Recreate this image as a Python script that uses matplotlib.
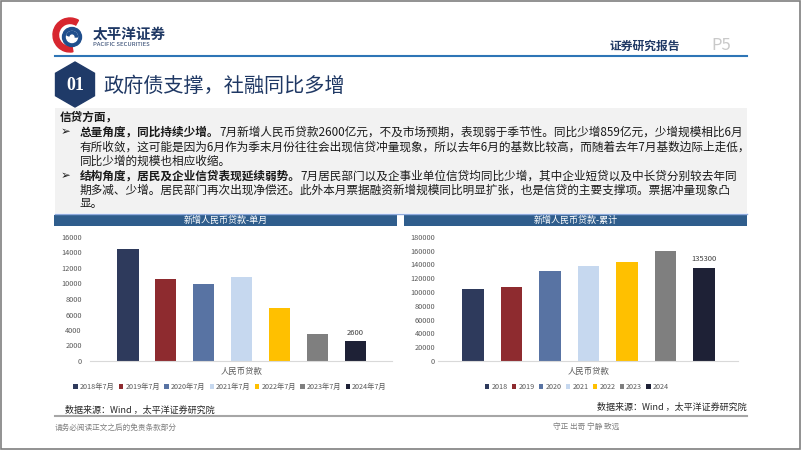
import matplotlib
matplotlib.use('Agg')
import matplotlib.pyplot as plt
from matplotlib import patches

plt.rcParams['font.family'] = ['Noto Sans CJK SC', 'DejaVu Sans']

# data
category = '人民币贷款'
month_labels = ['2018年7月', '2019年7月', '2020年7月', '2021年7月', '2022年7月', '2023年7月', '2024年7月']
monthly_loans = [14500, 10600, 9927, 10800, 6790, 3459, 2600]
year_labels = ['2018', '2019', '2020', '2021', '2022', '2023', '2024']
cumulative_loans = [104600, 106800, 130300, 137600, 143000, 160000, 135300]

colors = ['#2E3A5C', '#8E2B2F', '#5873A3', '#C6D8EF', '#FFC000', '#7F7F7F', '#1E2136']
NAVY = '#1F3864'
W, H = 802, 451

fig = plt.figure(figsize=(W / 100, H / 100), dpi=100)
bg = fig.add_axes([0, 0, 1, 1])
bg.set_xlim(0, W)
bg.set_ylim(H, 0)
bg.axis('off')

# frame
bg.add_patch(patches.Rectangle((0.8, 0.8), 799, 448.5, fill=False, ec='#7F7F7F', lw=1.2))

# logo
bg.add_patch(patches.Wedge((70, 35), 17, 80, 300, width=5.5, color='#D7262F'))
bg.add_patch(patches.Circle((72, 37), 9.5, color='#1F4E8C'))
bg.add_patch(patches.Circle((72, 37), 5.5, color='white'))
bg.add_patch(patches.Wedge((72, 37), 5.5, 200, 360, width=2.2, color='#1F4E8C'))
bg.text(93, 34, '太平洋证券', fontsize=10.5, fontweight='bold', color=NAVY, va='center')
bg.text(93, 44, 'PACIFIC SECURITIES', fontsize=4.3, color=NAVY, va='center')

# header
bg.plot([55, 747], [56, 56], color='#2E75B6', lw=1.5)
bg.text(610, 46, '证券研究报告', fontsize=8.5, fontweight='bold', color=NAVY, va='center')
bg.text(711, 46, 'P5', fontsize=12, color='#C9C9C9', va='center')

# section title
bg.add_patch(patches.RegularPolygon((75, 84.5), 6, radius=22.5, orientation=0, color='#1F3A68'))
bg.text(75, 86, '01', fontsize=13, fontweight='bold', color='white', ha='center', va='center',
        family=['Liberation Serif', 'DejaVu Serif'])
bg.text(103, 86, '政府债支撑，社融同比多增', fontsize=14.5, color=NAVY, va='center')

# text box
bg.add_patch(patches.Rectangle((55, 108), 692, 105, color='#F2F2F2', lw=0))
bg.plot([55, 747], [213.5, 213.5], color='#8FAADC', lw=1.0)

renderer = fig.canvas.get_renderer()
fs = 8.4
txt_color = '#1A1A1A'


def rich_line(x, y, bold_part, normal_part):
    t = bg.text(x, y, bold_part, fontsize=fs, fontweight='bold', color=txt_color, va='center')
    bb = t.get_window_extent(renderer=renderer)
    x_end = bg.transData.inverted().transform((bb.x1, bb.y0))[0]
    bg.text(x_end, y, normal_part, fontsize=fs, color=txt_color, va='center')


bg.text(60, 117, '信贷方面，', fontsize=fs, fontweight='bold', color=txt_color, va='center')
bg.text(61, 132, '➢', fontsize=fs, color=txt_color, va='center')
rich_line(80, 132, '总量角度，同比持续少增。',
          '7月新增人民币贷款2600亿元，不及市场预期，表现弱于季节性。同比少增859亿元，少增规模相比6月')
bg.text(80, 147, '有所收敛，这可能是因为6月作为季末月份往往会出现信贷冲量现象，所以去年6月的基数比较高，而随着去年7月基数边际上走低，',
        fontsize=fs, color=txt_color, va='center')
bg.text(80, 161, '同比少增的规模也相应收缩。', fontsize=fs, color=txt_color, va='center')
bg.text(61, 176, '➢', fontsize=fs, color=txt_color, va='center')
rich_line(80, 176, '结构角度，居民及企业信贷表现延续弱势。',
          '7月居民部门以及企事业单位信贷均同比少增，其中企业短贷以及中长贷分别较去年同')
bg.text(80, 190, '期多减、少增。居民部门再次出现净偿还。此外本月票据融资新增规模同比明显扩张，也是信贷的主要支撑项。票据冲量现象凸',
        fontsize=fs, color=txt_color, va='center')
bg.text(80, 204, '显。', fontsize=fs, color=txt_color, va='center')

# chart title bars
for x0, x1, title in [(54, 397, '新增人民币贷款-单月'), (404, 747, '新增人民币贷款-累计')]:
    bg.add_patch(patches.Rectangle((x0, 215), x1 - x0, 10.5, color='#2F5D8C', lw=0))
    bg.text((x0 + x1) / 2, 220.5, title, fontsize=6.5, color='white', ha='center', va='center')


def draw_chart(left, top, right, bottom, values, labels, ymax, step, xlim, pad, legend_x):
    ax = fig.add_axes([left / W, 1 - bottom / H, (right - left) / W, (bottom - top) / H])
    ax.patch.set_alpha(0)
    pos = list(range(len(values)))
    for p, v, lab, c in zip(pos, values, labels, colors):
        ax.bar(p, v, width=0.56, color=c, label=lab)
    ax.set_xlim(*xlim)
    ax.set_ylim(0, ymax)
    ax.set_yticks(range(0, ymax + 1, step))
    ax.tick_params(axis='y', length=0, labelsize=5.3, labelcolor='#595959', pad=pad)
    ax.set_xticks([3])
    ax.set_xticklabels([category])
    ax.tick_params(axis='x', length=0, labelsize=6, labelcolor='#595959', pad=4)
    for s in ['top', 'right', 'left']:
        ax.spines[s].set_visible(False)
    ax.spines['bottom'].set_color('#D9D9D9')
    ax.spines['bottom'].set_linewidth(0.8)
    ax.annotate(f'{values[-1]}', (pos[-1], values[-1]), xytext=(0, 3), textcoords='offset points',
                ha='center', va='bottom', fontsize=5.5, color='#404040')
    ax.legend(ncol=7, loc='center', bbox_to_anchor=(legend_x / W, 1 - 387 / H),
              bbox_transform=fig.transFigure, frameon=False, fontsize=5.2, labelcolor='#595959',
              handlelength=0.6, handleheight=0.6, handletextpad=0.3, columnspacing=0.6)
    return ax


draw_chart(90, 237, 392, 361, monthly_loans, month_labels, 16000, 2000, (-1.0, 6.97), 6, 230)
draw_chart(438, 236.7, 738, 361, cumulative_loans, year_labels, 180000, 20000, (-0.91, 6.88), 2, 577)

# sources
bg.text(65, 410, '数据来源：Wind ，太平洋证券研究院', fontsize=6.5, color='#262626', va='center')
bg.text(747, 407, '数据来源：Wind ，太平洋证券研究院', fontsize=6.5, color='#262626', va='center', ha='right')
bg.plot([55, 747], [415.5, 415.5], color='#A6A6A6', lw=1.5)

# footer
bg.text(55, 428, '请务必阅读正文之后的免责条款部分', fontsize=5.5, color='#7F7F7F', va='center')
bg.text(553, 428, '守正 出奇 宁静 致远', fontsize=5.5, color='#7F7F7F', va='center')

fig.savefig('out.png', dpi=100)
